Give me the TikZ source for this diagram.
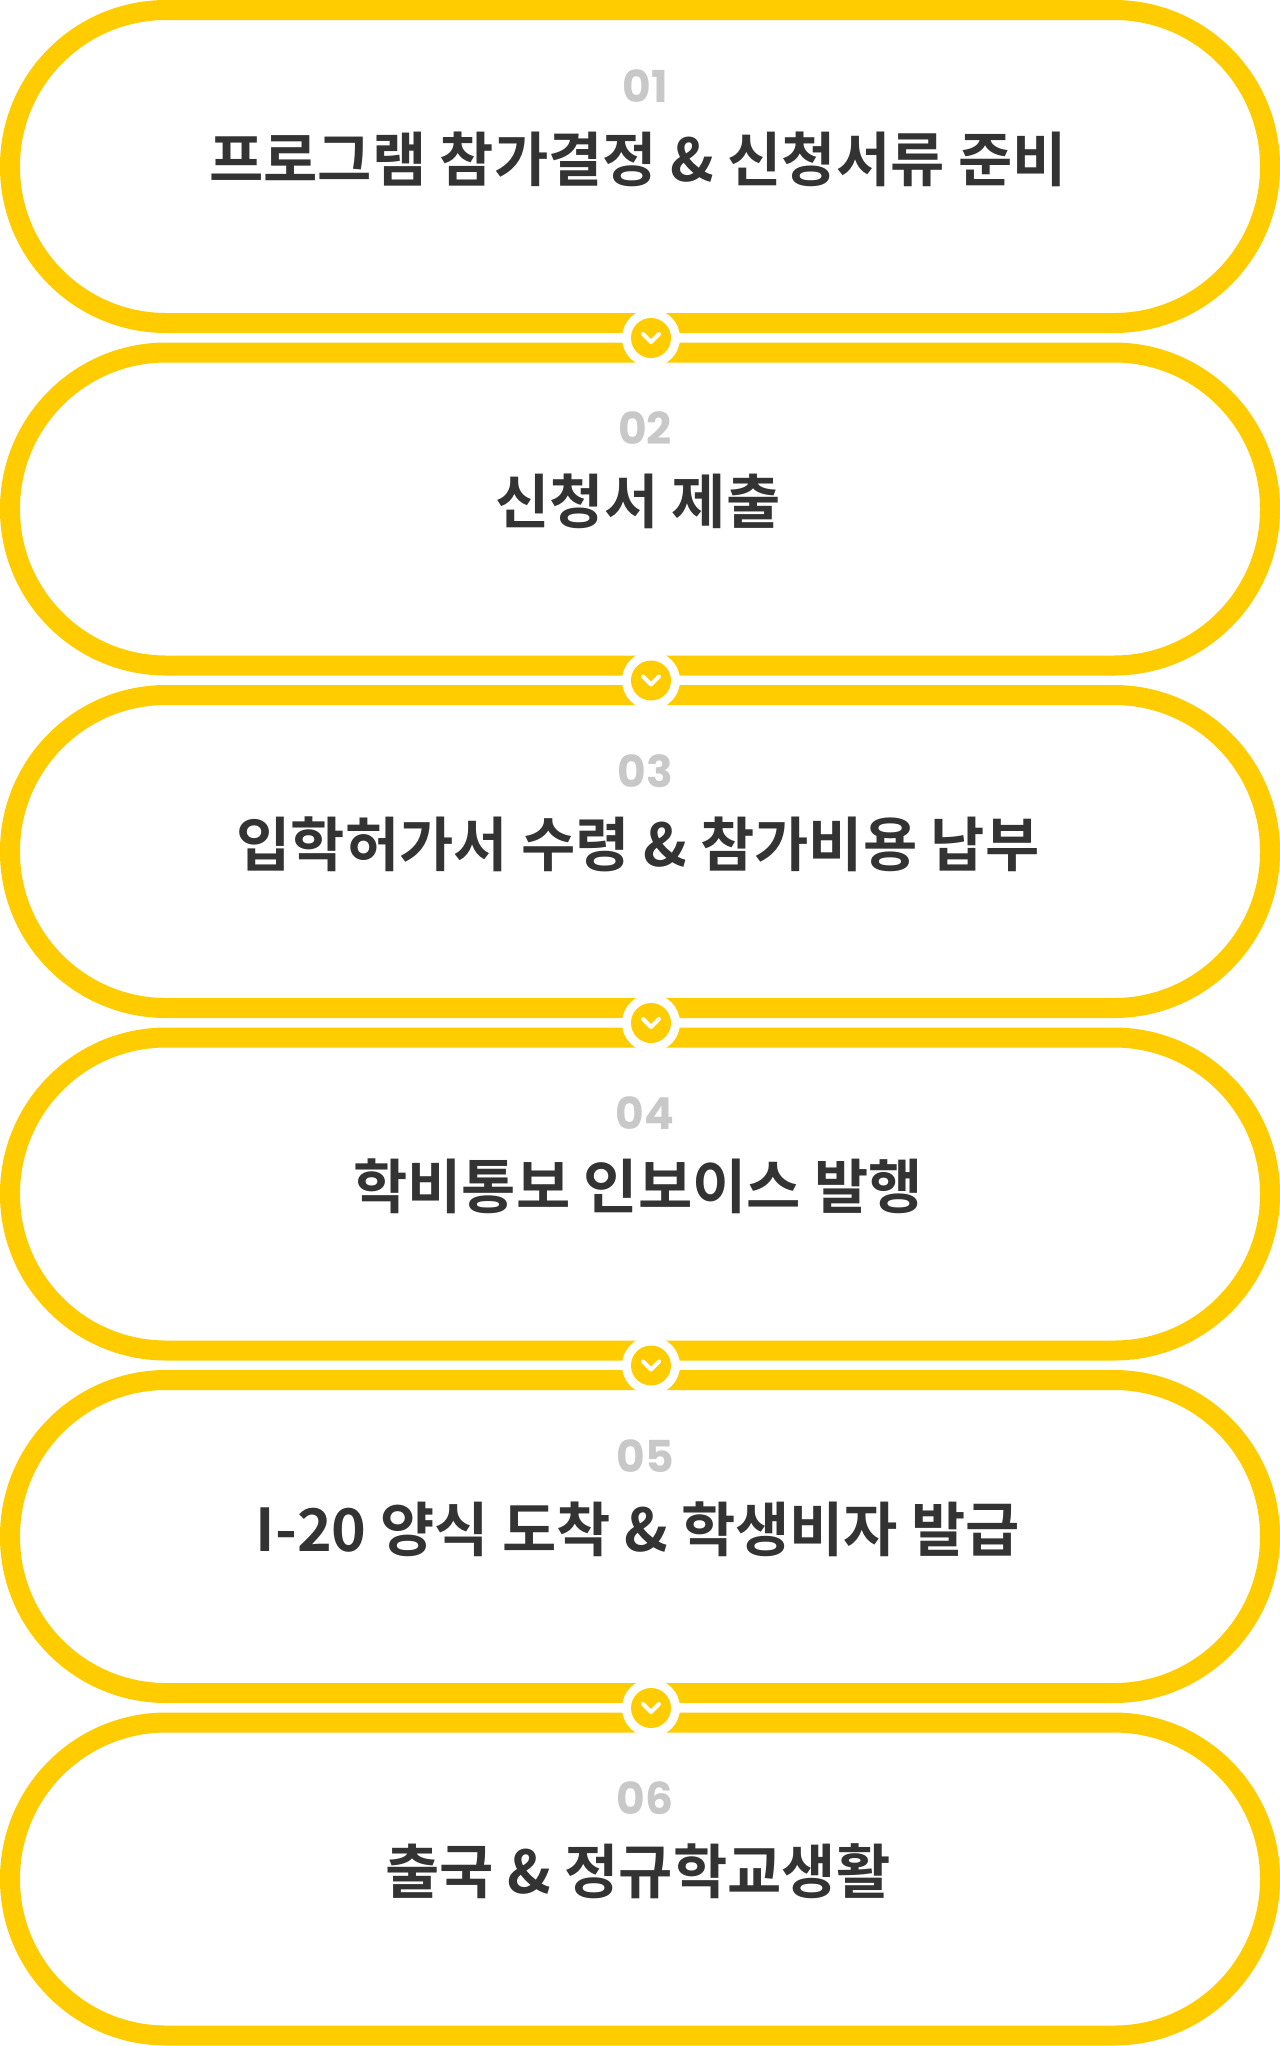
\documentclass[tikz,border=0pt]{standalone}
\usepackage{fontspec}
\newfontfamily\kr{Noto Sans CJK KR Bold}
\newfontfamily\num{Poppins Bold}
\definecolor{ylw}{HTML}{FFCC00}
\definecolor{txt}{HTML}{333333}
\definecolor{numc}{HTML}{C8C8C8}
\tikzset{
 pill/.style={draw=ylw,line width=20pt,rounded corners=156pt,fill=white},
 numtxt/.style={font=\num\fontsize{44}{44}\selectfont,text=numc},
 ttl/.style={font=\kr\fontsize{59}{64}\selectfont,text=txt},
 outer/.style={circle,fill=white,minimum size=58pt,inner sep=0pt},
 inner/.style={circle,fill=ylw,minimum size=40pt,inner sep=0pt},
}
\begin{document}
\begin{tikzpicture}[x=1pt,y=-1pt]
\useasboundingbox (0,0) rectangle (1280,2046);
\foreach \i/\n/\t in {0/01/프로그램 참가결정 \& 신청서류 준비,1/02/신청서 제출,2/03/입학허가서 수령 \& 참가비용 납부,3/04/학비통보 인보이스 발행,4/05/I-20 양식 도착 \& 학생비자 발급,5/06/출국 \& 정규학교생활}{
  \pgfmathsetmacro\yy{342.5*\i}
  \draw[pill] (10,\yy+10) rectangle (1270,\yy+323);
  \node[numtxt] (n\i) at (645,\yy+86) {\n};
  \node[ttl] (t\i) at (638,\yy+159) {\t};
}
\foreach \i in {0,...,4}{
  \pgfmathsetmacro\yy{338+342.5*\i}
  \node[outer] (c\i) at (651,\yy) {};
  \node[inner] (d\i) at (c\i) {};
  \draw[white,line width=4pt,line cap=round,line join=round] ([shift={(-8,-4)}]d\i.center) -- ([shift={(0,4)}]d\i.center) -- ([shift={(8,-4)}]d\i.center);
}
\end{tikzpicture}
\end{document}
